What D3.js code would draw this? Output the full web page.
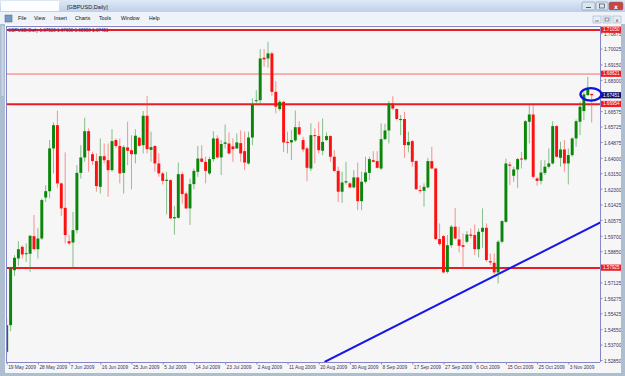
<!DOCTYPE html>
<html><head><meta charset="utf-8">
<script src="https://cdn.jsdelivr.net/npm/d3@7"></script>
<style>html,body{margin:0;padding:0;background:#fff;overflow:hidden}svg{display:block}</style>
</head><body><svg id="c" width="625" height="376"></svg>
<script>
const windowTitle = "[GBPUSD,Daily]";
const infoText = "GBPUSD,Daily  1.67520 1.67630 1.65950 1.67451";
const menuItems = ["File","View","Insert","Charts","Tools","Window","Help"];
const menuX = [18,34,54,75,99,121,149];

const openP = [1.5330,1.5477,1.5780,1.5845,1.5909,1.5871,1.5871,1.5968,1.5896,1.5955,
1.6181,1.6216,1.6452,1.6580,1.6259,1.6124,1.5940,1.5933,1.6001,1.6317,
1.6402,1.6547,1.6420,1.6382,1.6240,1.6409,1.6387,1.6332,1.6498,1.6465,
1.6317,1.6457,1.6442,1.6420,1.6511,1.6470,1.6632,1.6444,1.6465,1.6369,
1.6314,1.6273,1.6277,1.6066,1.6069,1.6310,1.6203,1.6121,1.6255,1.6323,
1.6396,1.6378,1.6314,1.6393,1.6507,1.6402,1.6477,1.6479,1.6463,1.6452,
1.6481,1.6437,1.6369,1.6512,1.6713,1.6718,1.6952,1.6948,1.6976,1.6764,
1.6669,1.6709,1.6488,1.6485,1.6496,1.6569,1.6498,1.6452,1.6341,1.6525,
1.6520,1.6439,1.6498,1.6520,1.6406,1.6328,1.6213,1.6264,1.6259,1.6237,
1.6292,1.6161,1.6268,1.6317,1.6387,1.6382,1.6341,1.6503,1.6551,1.6700,
1.6669,1.6608,1.6614,1.6470,1.6492,1.6382,1.6222,1.6218,1.6237,1.6382,
1.6341,1.5952,1.5968,1.5771,1.5918,1.6020,1.5950,1.5918,1.5937,1.5977,
1.5974,1.5896,1.5992,1.6014,1.5830,1.5821,1.5768,1.5937,1.6047,1.6363,
1.6301,1.6336,1.6396,1.6391,1.6599,1.6639,1.6286,1.6273,1.6317,1.6351,
1.6369,1.6575,1.6400,1.6446,1.6369,1.6415,1.6507,1.6599,1.6658,1.6746,
1.6752];
const highP = [1.5517,1.5799,1.5863,1.5940,1.5918,1.5928,1.5974,1.6084,1.6014,1.6176,
1.6249,1.6498,1.6595,1.6660,1.6264,1.6430,1.5974,1.6102,1.6360,1.6470,
1.6621,1.6562,1.6433,1.6424,1.6507,1.6479,1.6479,1.6558,1.6507,1.6507,
1.6470,1.6599,1.6525,1.6558,1.6516,1.6658,1.6742,1.6544,1.6470,1.6424,
1.6323,1.6323,1.6282,1.6134,1.6374,1.6323,1.6213,1.6286,1.6341,1.6466,
1.6470,1.6406,1.6406,1.6547,1.6525,1.6498,1.6584,1.6540,1.6507,1.6534,
1.6551,1.6544,1.6544,1.6728,1.6774,1.7000,1.7000,1.7040,1.6985,1.6823,
1.6718,1.6713,1.6544,1.6553,1.6661,1.6602,1.6516,1.6461,1.6590,1.6562,
1.6599,1.6617,1.6540,1.6525,1.6442,1.6351,1.6323,1.6378,1.6268,1.6332,
1.6374,1.6323,1.6406,1.6406,1.6437,1.6437,1.6590,1.6588,1.6713,1.6740,
1.6672,1.6636,1.6654,1.6544,1.6498,1.6387,1.6249,1.6259,1.6400,1.6461,
1.6345,1.6038,1.5974,1.5974,1.6029,1.6124,1.6020,1.5983,1.5996,1.6010,
1.6032,1.6010,1.6121,1.6038,1.5872,1.5872,1.5946,1.6056,1.6396,1.6378,
1.6351,1.6400,1.6433,1.6608,1.6691,1.6691,1.6295,1.6387,1.6387,1.6452,
1.6602,1.6580,1.6488,1.6498,1.6452,1.6512,1.6612,1.6709,1.6764,1.6847,
1.6755];
const lowP = [1.5312,1.5444,1.5749,1.5804,1.5845,1.5826,1.5771,1.5891,1.5845,1.5946,
1.6157,1.6176,1.6314,1.6235,1.6080,1.5928,1.5918,1.5795,1.5983,1.6286,
1.6378,1.6323,1.6360,1.6213,1.6203,1.6369,1.6185,1.6323,1.6455,1.6259,
1.6203,1.6360,1.6226,1.6369,1.6461,1.6424,1.6424,1.6378,1.6323,1.6295,
1.6253,1.6088,1.6062,1.5977,1.6066,1.6148,1.6117,1.6029,1.6227,1.6295,
1.6375,1.6259,1.6305,1.6378,1.6396,1.6305,1.6452,1.6419,1.6378,1.6448,
1.6378,1.6332,1.6363,1.6470,1.6700,1.6696,1.6902,1.6897,1.6742,1.6645,
1.6658,1.6433,1.6424,1.6387,1.6488,1.6525,1.6433,1.6271,1.6327,1.6369,
1.6424,1.6415,1.6492,1.6378,1.6323,1.6157,1.6152,1.6253,1.6231,1.6231,
1.6111,1.6111,1.6259,1.6277,1.6375,1.6341,1.6332,1.6498,1.6479,1.6663,
1.6608,1.6525,1.6400,1.6430,1.6351,1.6222,1.6203,1.6130,1.6231,1.6338,
1.5946,1.5915,1.5762,1.5762,1.5904,1.5950,1.5878,1.5793,1.5928,1.5955,
1.5863,1.5850,1.5904,1.5826,1.5808,1.5757,1.5707,1.5928,1.6043,1.6249,
1.6268,1.6235,1.6341,1.6384,1.6479,1.6286,1.6246,1.6253,1.6305,1.6341,
1.6363,1.6400,1.6351,1.6323,1.6253,1.6406,1.6461,1.6525,1.6608,1.6742,
1.6595];
const closeP = [1.5477,1.5790,1.5849,1.5896,1.5867,1.5874,1.5970,1.5896,1.5955,1.6167,
1.6216,1.6452,1.6580,1.6259,1.6121,1.5974,1.5928,1.6001,1.6317,1.6402,
1.6547,1.6439,1.6382,1.6244,1.6409,1.6387,1.6332,1.6492,1.6465,1.6314,
1.6459,1.6439,1.6420,1.6522,1.6466,1.6632,1.6448,1.6459,1.6369,1.6314,
1.6273,1.6279,1.6066,1.6073,1.6310,1.6200,1.6121,1.6255,1.6328,1.6396,
1.6378,1.6328,1.6393,1.6507,1.6402,1.6476,1.6485,1.6424,1.6448,1.6485,
1.6424,1.6374,1.6512,1.6694,1.6718,1.6948,1.6943,1.6976,1.6764,1.6682,
1.6709,1.6485,1.6485,1.6498,1.6569,1.6529,1.6446,1.6345,1.6525,1.6520,
1.6442,1.6488,1.6520,1.6406,1.6328,1.6213,1.6264,1.6271,1.6237,1.6292,
1.6161,1.6268,1.6319,1.6393,1.6378,1.6345,1.6503,1.6551,1.6700,1.6672,
1.6614,1.6614,1.6470,1.6488,1.6378,1.6227,1.6218,1.6240,1.6382,1.6341,
1.5952,1.5924,1.5768,1.5918,1.6020,1.5955,1.5915,1.5909,1.5977,1.5970,
1.5896,1.5992,1.6014,1.5836,1.5823,1.5768,1.5937,1.6051,1.6369,1.6356,
1.6336,1.6393,1.6391,1.6602,1.6639,1.6295,1.6273,1.6319,1.6351,1.6369,
1.6575,1.6406,1.6446,1.6369,1.6415,1.6507,1.6602,1.6682,1.6750,1.6783,
1.67451];

const dateLabels = ["19 May 2009","28 May 2009","7 Jun 2009","16 Jun 2009","25 Jun 2009","5 Jul 2009","14 Jul 2009","23 Jul 2009","2 Aug 2009","11 Aug 2009","20 Aug 2009","30 Aug 2009","8 Sep 2009","17 Sep 2009","27 Sep 2009","6 Oct 2009","15 Oct 2009","25 Oct 2009","3 Nov 2009"];
const dateBarIndex = [0,8,16,24,32,40,48,56,64,72,80,88,96,104,112,120,128,136,144];
const priceTickLabels = ["1.70875","1.70025","1.69150","1.68300","1.66575","1.65725","1.64875","1.64000","1.63150","1.62300","1.61425","1.60575","1.59700","1.58850","1.57125","1.56275","1.55425","1.54550","1.53700","1.52850"];
const levelPrices = [1.71050, 1.68621, 1.66954, 1.57925];
const levelLabels = ["1.71050","1.68621","1.66954","1.57925"];
const levelWidths = [2, 1, 2, 2];
const lastPrice = 1.67451;
const lastLabel = "1.67451";
const trendBars = [81.5, 152.5];
const trendPrices = [1.5274, 1.6046];
const markBar = 149.8, markPrice = 1.6750;

const svg = d3.select("#c");
const n = openP.length;
const plot = {l: 6, r: 600, t: 26, b: 362};
const FONT = "Liberation Sans, Arial, sans-serif";

// ---- window chrome ----
const defs = svg.append("defs");
const tg = defs.append("linearGradient").attr("id","tb").attr("x1",0).attr("y1",0).attr("x2",0).attr("y2",1);
tg.append("stop").attr("offset","0").attr("stop-color","#dfe9f6");
tg.append("stop").attr("offset","1").attr("stop-color","#bcd0ea");
svg.append("rect").attr("x",0).attr("y",0).attr("width",625).attr("height",376).attr("fill","#b9c8da");
svg.append("rect").attr("x",0).attr("y",0).attr("width",625).attr("height",12).attr("fill","url(#tb)");
svg.append("rect").attr("x",1).attr("y",1).attr("width",58).attr("height",10).attr("fill","#ffffff").attr("opacity",0.95);
svg.append("text").attr("x",67).attr("y",8.8).attr("font-family",FONT).attr("font-size",5.6).attr("fill","#1a1a1a").text(windowTitle);
[[582,13,"#dbe5f2"],[596,12,"#dbe5f2"],[609,14,"#c9463d"]].forEach(b=>{
  svg.append("rect").attr("x",b[0]).attr("y",2).attr("width",b[1]).attr("height",8).attr("rx",1.5).attr("fill",b[2]).attr("stroke","#6c7f99").attr("stroke-width",0.5);
});
svg.append("line").attr("x1",586).attr("x2",591).attr("y1",7.5).attr("y2",7.5).attr("stroke","#333").attr("stroke-width",0.8);
svg.append("rect").attr("x",599.5).attr("y",4).attr("width",5).attr("height",4).attr("fill","none").attr("stroke","#333").attr("stroke-width",0.6);
svg.append("text").attr("x",616).attr("y",8.6).attr("text-anchor","middle").attr("font-family","DejaVu Sans, sans-serif").attr("font-size",6).attr("font-weight","bold").attr("fill","#fff").text("x");
svg.append("rect").attr("x",0).attr("y",12).attr("width",625).attr("height",12).attr("fill","#eef3f9");
svg.append("rect").attr("x",5).attr("y",15).attr("width",7).attr("height",7).attr("fill","#7b98c2").attr("stroke","#3d5f91").attr("stroke-width",0.5);
svg.append("g").selectAll("text").data(menuItems).join("text")
  .attr("x",(d,i)=>menuX[i]).attr("y",20.3).attr("font-family",FONT).attr("font-size",5.2).attr("fill","#111").text(d=>d);
[593,603,613].forEach(xx=>{
  svg.append("rect").attr("x",xx).attr("y",16).attr("width",8).attr("height",7).attr("fill","#e8eef6").attr("stroke","#8ea3bf").attr("stroke-width",0.5);
});
svg.append("line").attr("x1",595).attr("x2",599).attr("y1",21).attr("y2",21).attr("stroke","#333").attr("stroke-width",0.6);
svg.append("rect").attr("x",605).attr("y",18).attr("width",4).attr("height",3).attr("fill","none").attr("stroke","#333").attr("stroke-width",0.5);
svg.append("text").attr("x",617).attr("y",21.8).attr("text-anchor","middle").attr("font-family","DejaVu Sans, sans-serif").attr("font-size",5).attr("fill","#333").text("x");

svg.append("rect").attr("x",5).attr("y",24).attr("width",616).attr("height",349).attr("fill","#f6f6f7");
svg.append("rect").attr("x",0).attr("y",24).attr("width",5).attr("height",352).attr("fill","#aebed1");
svg.append("rect").attr("x",1.5).attr("y",26).attr("width",2).attr("height",70).attr("fill","#cdd8e6");

// ---- scales ----
const x = d3.scaleBand().domain(d3.range(n)).range([4.75, 4.75 + 3.9*n]).paddingInner(0.25).paddingOuter(0.125);
const bw = x.bandwidth();
const cx = i => x(i) + bw/2;
const xl = d3.scaleLinear().domain([0, n-1]).range([cx(0), cx(n-1)]);
const y = d3.scaleLinear().domain([1.52738, 1.71271]).range([plot.b, plot.t]);

defs.append("clipPath").attr("id","pc").append("rect")
  .attr("x",plot.l).attr("y",plot.t).attr("width",plot.r-plot.l).attr("height",plot.b-plot.t);
const g = svg.append("g").attr("clip-path","url(#pc)");

g.append("g").selectAll("line").data(levelPrices).join("line")
  .attr("x1",plot.l).attr("x2",plot.r)
  .attr("y1",d=>y(d)).attr("y2",d=>y(d))
  .attr("stroke",(d,i)=>levelWidths[i]>1?"#ec1c24":"#f46a6a")
  .attr("stroke-width",(d,i)=>levelWidths[i]);

g.append("line")
  .attr("x1",xl(trendBars[0])).attr("y1",y(trendPrices[0]))
  .attr("x2",xl(trendBars[1])).attr("y2",y(trendPrices[1]))
  .attr("stroke","#1616e8").attr("stroke-width",2);

svg.append("text").attr("x",8).attr("y",31.5).attr("font-family",FONT).attr("font-size",4.5).attr("fill","#34348a").text(infoText);

const bars = d3.range(n).map(i=>({i, o:openP[i], h:highP[i], l:lowP[i], c:closeP[i]}));
const cg = g.append("g");
cg.selectAll("line").data(bars).join("line")
  .attr("x1",d=>cx(d.i)).attr("x2",d=>cx(d.i))
  .attr("y1",d=>y(d.h)).attr("y2",d=>y(d.l))
  .attr("stroke",d=>d.c>=d.o?"#3a9a3a":"#ff4a4a")
  .attr("stroke-opacity",0.6).attr("stroke-width",1);
cg.selectAll("rect").data(bars).join("rect")
  .attr("x",d=>x(d.i)).attr("width",bw)
  .attr("y",d=>y(Math.max(d.o,d.c)))
  .attr("height",d=>Math.max(1, Math.abs(y(d.o)-y(d.c))))
  .attr("fill",d=>d.c>=d.o?"#0a850a":"#ff1010");

const bc = "#8585c8";
svg.append("line").attr("x1",plot.l+0.5).attr("x2",plot.l+0.5).attr("y1",plot.t).attr("y2",plot.b).attr("stroke",bc);
svg.append("line").attr("x1",plot.l).attr("x2",plot.r).attr("y1",plot.t+0.5).attr("y2",plot.t+0.5).attr("stroke",bc);

const yAxis = d3.axisRight(y).tickValues(priceTickLabels.map(Number)).tickFormat((d,i)=>priceTickLabels[i]).tickSize(2).tickPadding(1.5);
const ya = svg.append("g").attr("transform",`translate(${plot.r+0.5},0)`).call(yAxis);
ya.select(".domain").attr("stroke",bc).attr("d",`M0,${plot.t}V${plot.b}`);
ya.selectAll(".tick line").attr("stroke",bc);
ya.selectAll("text").attr("dy","0.5em").attr("font-family",FONT).attr("font-size",4.8).attr("fill","#333366");

const xAxis = d3.axisBottom(xl).tickValues(dateBarIndex).tickFormat((d,i)=>dateLabels[i]).tickSize(2).tickPadding(1);
const xa = svg.append("g").attr("transform",`translate(0,${plot.b+0.5})`).call(xAxis);
xa.select(".domain").attr("stroke",bc).attr("d",`M${plot.l},0H${plot.r}`);
xa.selectAll(".tick line").attr("stroke",bc);
xa.selectAll("text").attr("text-anchor","start").attr("dx",1).attr("font-family",FONT).attr("font-size",4.8).attr("fill","#333366");

const lg = svg.append("g");
levelPrices.forEach((p,i)=>{
  lg.append("rect").attr("x",plot.r+1).attr("y",y(p)-3.4).attr("width",20).attr("height",6.2).attr("fill","#ec1c24");
  lg.append("text").attr("x",plot.r+3).attr("y",y(p)+1.2).attr("font-family",FONT).attr("font-size",4.6).attr("fill","#fff").text(levelLabels[i]);
});
lg.append("rect").attr("x",plot.r+1).attr("y",y(lastPrice)-3.1).attr("width",20).attr("height",6.2).attr("fill","#10106e");
lg.append("text").attr("x",plot.r+3).attr("y",y(lastPrice)+1.6).attr("font-family",FONT).attr("font-size",4.6).attr("fill","#fff").text(lastLabel);

svg.append("ellipse").attr("cx",xl(markBar)).attr("cy",y(markPrice)).attr("rx",10.5).attr("ry",6.3)
  .attr("fill","none").attr("stroke","#1212e0").attr("stroke-width",2.3);

svg.append("rect").attr("x",621).attr("y",24).attr("width",4).attr("height",352).attr("fill","#aebed1");
svg.append("rect").attr("x",0).attr("y",373).attr("width",625).attr("height",3).attr("fill","#aebed1");
</script></body></html>
